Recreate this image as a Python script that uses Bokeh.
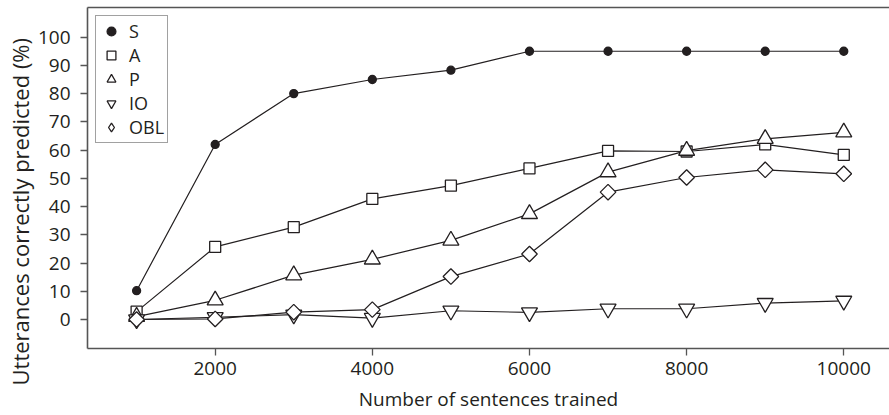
from bokeh.plotting import figure
from bokeh.models import Range1d, LinearAxis, FixedTicker, Legend, LegendItem, Title
from bokeh.embed import file_html
from bokeh.resources import INLINE
import math

# ---- data ----
sentences = [1000, 2000, 3000, 4000, 5000, 6000, 7000, 8000, 9000, 10000]
S_vals = [10.2, 62, 80, 85, 88.3, 95, 95, 95, 95, 95]
A_vals = [2.8, 25.7, 32.7, 42.7, 47.4, 53.5, 59.7, 59.5, 62, 58.3]
P_vals = [1.0, 6.8, 15.7, 21.3, 28.0, 37.4, 52.2, 59.8, 64.0, 66.3]
IO_vals = [0.0, 0.8, 1.7, 0.5, 3.1, 2.5, 3.8, 3.8, 5.8, 6.6]
OBL_vals = [0.0, 0.2, 2.6, 3.5, 15.2, 23.2, 45.1, 50.3, 53.0, 51.6]
x_ticks = [2000, 4000, 6000, 8000, 10000]
y_ticks = [0, 10, 20, 30, 40, 50, 60, 70, 80, 90, 100]
series_names = ["S", "A", "P", "IO", "OBL"]
x_title = "Number of sentences trained"
y_title = "Utterances correctly predicted (%)"

FONT = "Open Sans"
TXT = "#231f20"
AX = "#555555"
INK = "#231f20"

p = figure(width=889, height=415, output_backend="svg", toolbar_location=None,
           x_range=Range1d(375, 10582), y_range=Range1d(-10.27, 110.5),
           min_border_left=87, min_border_top=7, min_border_bottom=67,
           min_border_right=0)
p.grid.visible = False
p.outline_line_color = None
p.background_fill_color = "white"
p.border_fill_color = "white"

for ax in (p.xaxis[0], p.yaxis[0]):
    ax.axis_line_color = AX
    ax.axis_line_width = 1.6
    ax.major_tick_line_color = AX
    ax.major_tick_line_width = 1.3
    ax.major_tick_out = 7
    ax.major_tick_in = 0
    ax.minor_tick_line_color = None
    ax.major_label_text_font = FONT
    ax.major_label_text_font_size = "19px"
    ax.major_label_text_color = TXT
    ax.axis_label_text_font = FONT
    ax.axis_label_text_font_size = "19px"
    ax.axis_label_text_color = TXT
    ax.axis_label_text_font_style = "normal"

p.xaxis.ticker = FixedTicker(ticks=x_ticks)
p.yaxis.ticker = FixedTicker(ticks=y_ticks)
p.xaxis.axis_label = x_title
p.xaxis.major_label_standoff = 6
p.yaxis.major_label_standoff = 10
p.xaxis.axis_label_standoff = 8

# y title as a side title (sits lower than the axis centre in the reference)
ytitle = Title(text=y_title, align="left", offset=-37, text_font=FONT,
               text_font_size="22px", text_font_style="normal", text_color=TXT,
               standoff=0)
p.add_layout(ytitle, "left")

top = LinearAxis(ticker=FixedTicker(ticks=[]), axis_line_color=AX, axis_line_width=1.6,
                 major_tick_line_color=None, minor_tick_line_color=None,
                 major_label_text_font_size="0px", major_label_standoff=0)
p.add_layout(top, "above")

vals = [S_vals, A_vals, P_vals, IO_vals, OBL_vals]
for v in vals:
    p.line(sentences, v, line_color=INK, line_width=1.2)

items = []
# S, A, P, IO
specs = [("circle", 8, INK), ("square", 11, "white"),
         ("triangle", 16, "white"), ("inverted_triangle", 16, "white")]
for name, v, (mk, sz, fc) in zip(series_names[:4], vals[:4], specs):
    r = p.scatter(sentences, v, marker=mk, size=sz, fill_color=fc,
                  line_color=INK, line_width=1.3)
    items.append(LegendItem(label=name, renderers=[r]))

# OBL: legend glyph is a diamond, which sits hidden under the rotated square
r_obl_key = p.scatter(sentences, OBL_vals, marker="diamond", size=8,
                      fill_color="white", line_color=INK, line_width=1.3)
p.scatter(sentences, OBL_vals, marker="square", size=11, angle=math.pi / 4,
          fill_color="white", line_color=INK, line_width=1.3)
items.append(LegendItem(label=series_names[4], renderers=[r_obl_key]))

legend = Legend(items=items, location="top_left", margin=8,
                label_text_font=FONT, label_text_font_size="18px",
                label_text_color=TXT, glyph_height=22, glyph_width=24,
                label_height=22, spacing=-3, padding=3, label_standoff=6,
                border_line_color="#444444", border_line_width=1.5,
                background_fill_alpha=1.0)
p.add_layout(legend, "center")

open("out.html", "w").write(file_html(p, INLINE))
